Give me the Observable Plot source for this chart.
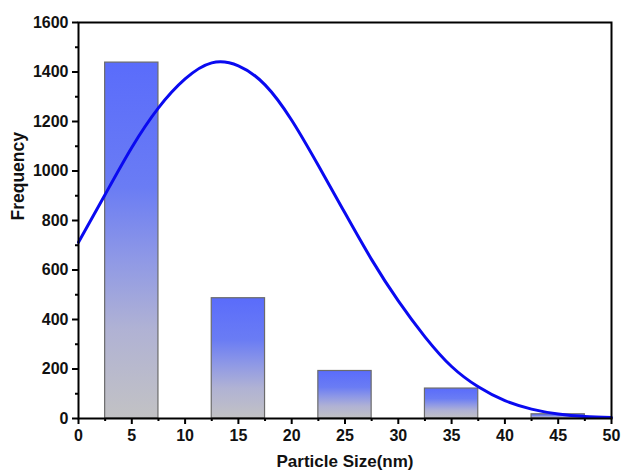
<!DOCTYPE html>
<html>
<head>
<meta charset="utf-8">
<script src="https://cdn.jsdelivr.net/npm/d3@7"></script>
<script src="https://cdn.jsdelivr.net/npm/@observablehq/plot@0.6"></script>
<style>
  html, body { margin: 0; padding: 0; background: #fff; }
  svg { font-family: "Liberation Sans", Arial, sans-serif; font-weight: bold; }
</style>
</head>
<body>
<div id="chart"></div>
<script>
// Histogram bins (centers, nm) and counts
const binCenters = [5, 15, 25, 35, 45];
const binHalfWidth = 2.5;
const counts = [1438, 486, 192, 121, 17];

// Fitted distribution curve
const curveX = [0, 2.5, 5, 7.5, 10, 12.5, 15, 17.5, 20, 22.5, 25, 27.5, 30, 32.5, 35, 37.5, 40, 42.5, 45, 47.5, 50];
const curveY = [712, 905, 1095, 1255, 1372, 1437, 1425, 1348, 1205, 1022, 830, 642, 475, 330, 210, 128, 72, 38, 18, 8, 4];

// Ticks
const xTicks = [0, 5, 10, 15, 20, 25, 30, 35, 40, 45, 50];
const xMinor = [2.5, 7.5, 12.5, 17.5, 22.5, 27.5, 32.5, 37.5, 42.5, 47.5];
const yTicks = [0, 200, 400, 600, 800, 1000, 1200, 1400, 1600];
const yMinor = [100, 300, 500, 700, 900, 1100, 1300, 1500];

const bars = binCenters.map((c, i) => ({x1: c - binHalfWidth, x2: c + binHalfWidth, y: counts[i]}));
const curve = curveX.map((x, i) => ({x, y: curveY[i]}));

const plot = Plot.plot({
  width: 621,
  height: 474,
  marginLeft: 78,
  marginRight: 10,
  marginTop: 22,
  marginBottom: 56,
  style: {background: "#fff", fontFamily: "Liberation Sans, Arial, sans-serif", fontWeight: "bold"},
  x: {domain: [0, 50]},
  y: {domain: [0, 1600]},
  marks: [
    Plot.rectY(bars, {x1: "x1", x2: "x2", y: "y", fill: "url(#barGrad)", stroke: "#6b6b6b", strokeWidth: 1.2}),
    Plot.line(curve, {x: "x", y: "y", stroke: "#0a0af0", strokeWidth: 3, curve: "natural"}),
    Plot.frame({stroke: "#000", strokeWidth: 2}),
    Plot.axisX({ticks: xTicks, tickSize: 6, tickPadding: 5, strokeWidth: 2, fontSize: 16, fill: "#111", label: null, tickFormat: d => String(d)}),
    Plot.axisX({ticks: xMinor, tickSize: 3, text: null, strokeWidth: 2, label: null}),
    Plot.axisY({ticks: yTicks, tickSize: 6, tickPadding: 4, strokeWidth: 2, fontSize: 16, fill: "#111", label: null, tickFormat: d => String(d)}),
    Plot.axisY({ticks: yMinor, tickSize: 3, text: null, strokeWidth: 2, label: null}),
    Plot.text(["Particle Size(nm)"], {frameAnchor: "bottom", dy: 48, fontSize: 17, fontWeight: "bold", fill: "#111"}),
    Plot.text(["Frequency"], {frameAnchor: "left", dx: -60, rotate: -90, fontSize: 17.5, fontWeight: "bold", fill: "#111"})
  ]
});

const svg = d3.select(plot);
const defs = svg.insert("defs", ":first-child");
const g = defs.append("linearGradient").attr("id", "barGrad").attr("x1", 0).attr("y1", 0).attr("x2", 0).attr("y2", 1);
[[0, "#5a6cfb"], [0.35, "#6a7cf4"], [0.55, "#8e98e6"], [0.75, "#b0b2d4"], [1, "#c2c2c4"]].forEach(([o, c]) =>
  g.append("stop").attr("offset", o).attr("stop-color", c));

document.getElementById("chart").appendChild(plot);
</script>
</body>
</html>
